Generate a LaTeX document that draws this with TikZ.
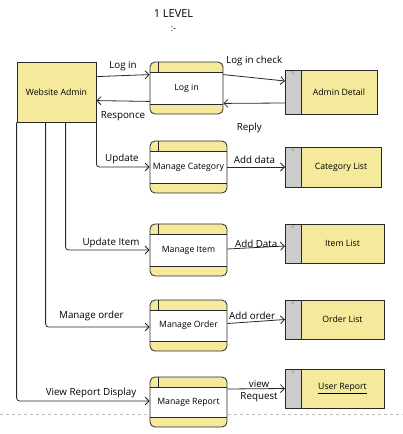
\documentclass[tikz,border=0pt]{standalone}
\usepackage{fontspec}
\setmainfont{Open Sans}
\usepackage{xcolor}
\usetikzlibrary{arrows.meta,positioning}
\definecolor{dfdyellow}{RGB}{245,233,155}
\definecolor{dfdgray}{RGB}{204,204,204}
\definecolor{dfdline}{RGB}{40,40,40}
\newcommand{\boxfont}{\fontsize{8.7}{10}\selectfont}
\newcommand{\flowfont}{\fontsize{9.8}{12}\selectfont}

\begin{document}
\begin{tikzpicture}[x=1pt, y=-1pt, >={Straight Barb[length=4pt,width=8pt]},
    entity/.style={rectangle, draw=dfdline, line width=0.8pt, fill=dfdyellow, minimum width=79pt, minimum height=60pt, inner sep=1pt, font=\boxfont},
    proc/.style={rectangle, rounded corners=5pt, draw=dfdline, line width=0.8pt, fill=white, minimum width=77pt, minimum height=52pt, inner sep=1pt, font=\boxfont,
        path picture={
            \fill[dfdyellow, sharp corners] (path picture bounding box.north west) rectangle ([yshift=-10pt]path picture bounding box.north east);
            \fill[dfdyellow, sharp corners] (path picture bounding box.south west) rectangle ([yshift=10pt]path picture bounding box.south east);
            \draw[dfdline] ([yshift=-10pt]path picture bounding box.north west) -- ([yshift=-10pt]path picture bounding box.north east);
            \draw[dfdline] ([yshift=10pt]path picture bounding box.south west) -- ([yshift=10pt]path picture bounding box.south east);
            \draw[dfdline] ([xshift=8pt]path picture bounding box.north west) -- ([xshift=8pt, yshift=-10pt]path picture bounding box.north west);
        }},
    store/.style={rectangle, draw=dfdline, line width=0.8pt, fill=dfdyellow, outer sep=0pt, inner sep=1pt, font=\boxfont},
    storeid/.style={rectangle, draw=dfdline, line width=0.8pt, fill=dfdgray, outer sep=0pt, inner sep=0pt, minimum width=16pt,
        label={[anchor=north, inner sep=1.5pt, text=gray, font=\fontsize{4}{4}\selectfont]north:D}},
    flow/.style={->, draw=dfdline, line width=0.8pt},
    lbl/.style={inner sep=1pt, font=\flowfont}]

    \useasboundingbox (0,0) rectangle (403,434);

    % page break line
    \draw[dashed, gray!50, line width=0.6pt, dash pattern=on 3pt off 3pt] (0,414) -- (403,414);

    % title
    \node[font=\fontsize{11}{13}\selectfont] (title) at (173.5,14) {1 LEVEL};
    \node[font=\fontsize{9}{10}\selectfont] (titlesub) at (173.5,29) {:-};

    % external entity
    \node[entity] (admin) at (56.5,92) {Website Admin};

    % processes
    \node[proc, minimum width=73pt] (login) at (186.5,88) {Log in};
    \node[proc] (mancat) at (188.5,167) {Manage Category};
    \node[proc] (manitem) at (188.5,250) {Manage Item};
    \node[proc, minimum height=51pt] (manorder) at (188.5,325.5) {Manage Order};
    \node[proc, minimum height=50pt] (manreport) at (188.5,402) {Manage Report};

    % data stores
    \node[store, minimum width=76pt, minimum height=44pt] (admindetail) at (339,92) {Admin Detail};
    \node[storeid, minimum height=44pt, left=0pt of admindetail] (admindetailD) {};
    \node[store, minimum width=80pt, minimum height=40pt] (catlist) at (341,167) {Category List};
    \node[storeid, minimum height=40pt, left=0pt of catlist] (catlistD) {};
    \node[store, minimum width=83pt, minimum height=39pt] (itemlist) at (342.5,243.5) {Item List};
    \node[storeid, minimum height=39pt, left=0pt of itemlist] (itemlistD) {};
    \node[store, minimum width=83pt, minimum height=39pt] (orderlist) at (342.5,319.5) {Order List};
    \node[storeid, minimum height=39pt, left=0pt of orderlist] (orderlistD) {};
    \node[store, minimum width=83pt, minimum height=39pt] (userreport) at (342.5,388.5) {\underline{User Report}};
    \node[storeid, minimum height=39pt, left=0pt of userreport] (userreportD) {};

    % log in flows
    \draw[flow] ([yshift=-15pt]admin.north east) -- node[lbl, above=3pt] {Log in} ([yshift=-13pt]login.north west);
    \draw[flow] ([yshift=13pt]login.south west) -- node[lbl, below=9pt] {Responce} ([yshift=-39pt]admin.north east);
    \draw[flow] ([yshift=-13pt]login.north east) -- node[lbl, above=11pt] {Log in check} ([yshift=-11pt]admindetailD.north west);
    \draw[flow] ([yshift=11pt]admindetailD.south west) -- node[lbl, below=18pt, pos=0.58] {Reply} ([yshift=11pt]login.south east);

    % admin to processes
    \draw[flow, rounded corners=3pt] (admin.south east) |- node[lbl, above=2pt, pos=0.74] {Update} (mancat.west);
    \draw[flow, rounded corners=3pt] ([xshift=49pt]admin.south west) |- node[lbl, above=1pt, pos=0.77] {Update Item} (manitem.west);
    \draw[flow, rounded corners=3pt] ([xshift=29pt]admin.south west) |- node[lbl, above=5pt, pos=0.72] {Manage order} ([yshift=-1.5pt]manorder.west);
    \draw[flow, rounded corners=3pt] (admin.south west) |- node[lbl, above=2pt, pos=0.78] {View Report Display} ([yshift=1pt]manreport.west);

    % processes to stores
    \draw[flow] (mancat.east) -- node[lbl, above=2pt, pos=0.47] {Add data} (catlistD.west);
    \draw[flow] ([yshift=1pt]manitem.east) -- node[lbl, above=-1pt] {Add Data} ([yshift=-2.5pt]itemlistD.west);
    \draw[flow] ([yshift=2pt]manorder.east) -- node[lbl, above=1pt, pos=0.43] {Add order} (orderlistD.west);
    \draw[flow] ([yshift=13pt]manreport.east) -- node[lbl, align=center, pos=0.55, yshift=-2pt] {view\\Request} (userreportD.west);
\end{tikzpicture}
\end{document}
